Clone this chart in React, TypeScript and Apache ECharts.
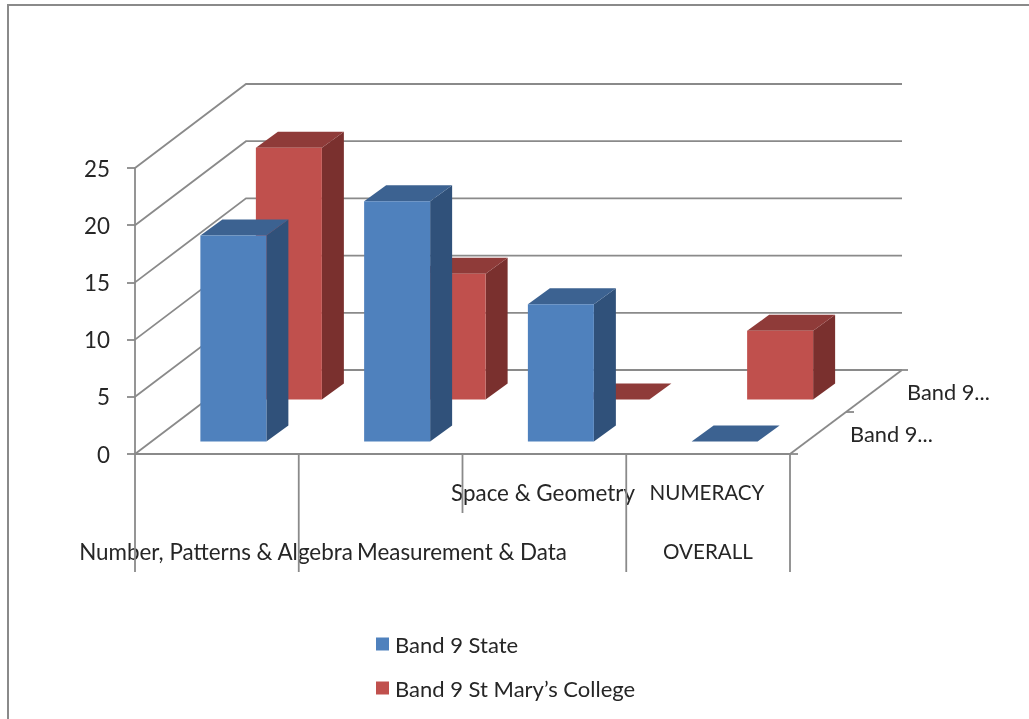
import React, { useEffect, useRef } from "react";
import * as echarts from "echarts";

const categories = ["Number, Patterns & Algebra", "Measurement & Data", "Space & Geometry", "NUMERACY OVERALL"];
const stateValues = [18, 21, 12, 0];
const collegeValues = [22, 11, 0, 6];
const yTicks = [0, 5, 10, 15, 20, 25];
const seriesNames = ["Band 9 State", "Band 9 St Mary\u2019s College"];
const depthLabels = ["Band 9...", "Band 9..."];

const GRID = { left: 135, top: 168, width: 655, height: 286 };
const WALL_DX = 111;
const WALL_DY = -84;
const RIGHT_END = 902;
const BAR_W = 66;
const BAR_DX = 22;
const BAR_DY = -16;
const AXIS = "#8a8a8a";
const TEXT = "#262626";
const FONT = "Lato";
const LINE_W = 1.8;
const FONT_SIZE = 22.4;

const barRenderer = (offX: number, offY: number, front: string, top: string, side: string) =>
  (_params: any, api: any) => {
    const cat = api.value(0);
    const val = api.value(1);
    const t = api.coord([cat, val]);
    const b = api.coord([cat, 0]);
    const l = t[0] + offX - BAR_W / 2;
    const r = l + BAR_W;
    const ty = t[1] + offY;
    const by = b[1] + offY;
    return {
      type: "group",
      children: [
        { type: "polygon", shape: { points: [[r, ty], [r + BAR_DX, ty + BAR_DY], [r + BAR_DX, by + BAR_DY], [r, by]] }, style: { fill: side } },
        { type: "polygon", shape: { points: [[l, ty], [l + BAR_DX, ty + BAR_DY], [r + BAR_DX, ty + BAR_DY], [r, ty]] }, style: { fill: top } },
        { type: "rect", shape: { x: l, y: ty, width: BAR_W, height: by - ty }, style: { fill: front } },
      ],
    };
  };

const wallRenderer = (params: any, api: any) => {
  const p = api.coord([0, api.value(1)]);
  const x0 = params.coordSys.x;
  return {
    type: "polyline",
    shape: { points: [[x0, p[1]], [x0 + WALL_DX, p[1] + WALL_DY], [RIGHT_END, p[1] + WALL_DY]] },
    style: { fill: "none", stroke: AXIS, lineWidth: LINE_W },
  };
};

const dropLines = [572, 572, 513, 572, 572];

const floorRenderer = (params: any) => {
  const { x, y, width } = params.coordSys;
  const step = width / categories.length;
  const line = (x1: number, y1: number, x2: number, y2: number) => ({
    type: "line",
    shape: { x1, y1, x2, y2 },
    style: { stroke: AXIS, lineWidth: LINE_W },
  });
  return {
    type: "group",
    children: [
      ...dropLines.map((end, i) => line(x + step * i, y + GRID.height, x + step * i, end)),
      line(x + width, y + GRID.height, RIGHT_END, y + GRID.height + WALL_DY),
      line(x + width, y + GRID.height, x + width + 8, y + GRID.height),
      line(x + width + 56, y + GRID.height + WALL_DY / 2, x + width + 64, y + GRID.height + WALL_DY / 2),
      line(RIGHT_END, y + GRID.height + WALL_DY, RIGHT_END + 6, y + GRID.height + WALL_DY),
    ],
  };
};

const labelText = (text: string, cx: number, cy: number, left?: boolean, size: number = FONT_SIZE) => ({
  type: "text",
  x: cx,
  y: cy,
  style: {
    text,
    fill: TEXT,
    font: `${size}px ${FONT}`,
    textAlign: left ? "left" : "center",
    textVerticalAlign: "middle",
  },
});

export default function App() {
  const ref = useRef<HTMLDivElement>(null);
  useEffect(() => {
    const chart = echarts.init(ref.current!, undefined, { renderer: "svg" });
    chart.setOption({
      animation: false,
      backgroundColor: "#ffffff",
      grid: { ...GRID, containLabel: false },
      xAxis: {
        type: "category",
        data: categories,
        axisLine: { show: true, lineStyle: { color: AXIS, width: LINE_W } },
        axisTick: { show: false },
        axisLabel: { show: false },
      },
      yAxis: {
        type: "value",
        min: 0,
        max: 25,
        interval: 5,
        splitLine: { show: false },
        axisLine: { show: true, lineStyle: { color: AXIS, width: LINE_W } },
        axisTick: { show: true, length: 8, lineStyle: { color: AXIS, width: LINE_W } },
        axisLabel: { color: TEXT, fontFamily: FONT, fontSize: FONT_SIZE, margin: 25 },
      },
      legend: {
        data: seriesNames,
        orient: "vertical",
        left: 371,
        top: 628,
        icon: "rect",
        itemWidth: 13,
        itemHeight: 13,
        itemGap: 22,
        textStyle: { color: TEXT, fontFamily: FONT, fontSize: 22, padding: [0, 0, 0, 1] },
      },
      graphic: [
        { type: "polyline", shape: { points: [[8, 719], [8, 5], [1029, 5]] }, style: { fill: "none", stroke: AXIS, lineWidth: 2 } },
        labelText("Number, Patterns & Algebra", 216, 551),
        labelText("Measurement & Data", 462, 551),
        labelText("Space & Geometry", 543, 492),
        labelText("NUMERACY", 707, 492, false, 20.6),
        labelText("OVERALL", 708, 551, false, 20.6),
        labelText(depthLabels[1], 907, 391, true, 21.8),
        labelText(depthLabels[0], 850, 433, true, 21.8),
      ],
      series: [
        {
          name: "walls",
          type: "custom",
          z: 1,
          silent: true,
          renderItem: wallRenderer,
          data: yTicks.map((v) => [0, v]),
        },
        {
          name: "floor",
          type: "custom",
          z: 1,
          silent: true,
          renderItem: floorRenderer,
          data: [[0, 0]],
        },
        {
          name: seriesNames[1],
          type: "custom",
          z: 2,
          itemStyle: { color: "#C0504D" },
          renderItem: barRenderer(72, -54.5, "#C0504D", "#8F3B39", "#7A302E"),
          data: collegeValues.map((v, i) => [i, v]),
        },
        {
          name: seriesNames[0],
          type: "custom",
          z: 3,
          itemStyle: { color: "#4F81BD" },
          renderItem: barRenderer(16.5, -12.5, "#4F81BD", "#3C6291", "#30517A"),
          data: stateValues.map((v, i) => [i, v]),
        },
      ],
    });
    return () => chart.dispose();
  }, []);
  return (
    <div
      ref={ref}
      style={{ position: "fixed", left: 0, top: 0, width: 1029, height: 719, filter: "blur(0.5px)" }}
    />
  );
}
